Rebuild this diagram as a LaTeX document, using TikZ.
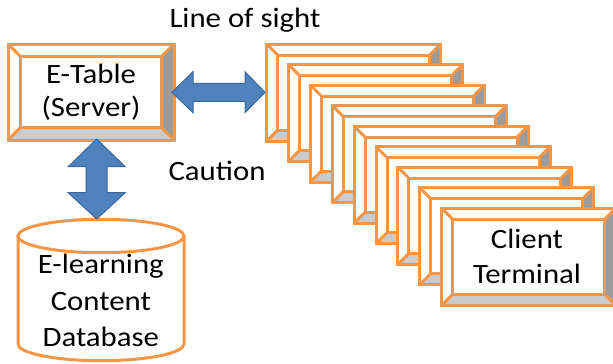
\documentclass[tikz,border=0pt]{standalone}
\usepackage{fontspec}
\setmainfont[FakeStretch=1.1]{Carlito}
\definecolor{boxorange}{HTML}{F79646}
\definecolor{arrowblue}{HTML}{4F81BD}
\definecolor{arrowedge}{HTML}{3A679C}
\definecolor{bevelside}{HTML}{9B9B9B}
\definecolor{bevelbase}{HTML}{CBCBCB}

\tikzset{
  frame/.style={draw=boxorange, line width=3pt, line join=miter},
  blockarrow/.style={fill=arrowblue, draw=arrowedge, line width=1pt, line join=miter},
  label/.style={font=\fontsize{28}{35}\selectfont, align=center, inner sep=0pt, text=black},
}

% bevelled frame: name, left, top, width, height, bevel size
\newcommand\bevelbox[6]{%
  \coordinate (#1-nw) at (#2,#3);
  \coordinate (#1-se) at (#2+#4,#3+#5);
  \coordinate (#1-c) at (#2+#4/2,#3+#5/2);
  \fill[white] (#1-nw) rectangle (#1-se);
  \fill[bevelside] (#2+#4,#3) -- (#2+#4-#6,#3+#6) -- (#2+#4-#6,#3+#5-#6) -- (#2+#4,#3+#5) -- cycle;
  \fill[bevelbase] (#2,#3+#5) -- (#2+#6,#3+#5-#6) -- (#2+#4-#6,#3+#5-#6) -- (#2+#4,#3+#5) -- cycle;
  \draw[frame] (#1-nw) rectangle (#1-se);
  \draw[frame] (#2+#6,#3+#6) rectangle (#2+#4-#6,#3+#5-#6);
  \draw[frame] (#2,#3) -- ++(#6,#6) (#2+#4,#3) -- ++(-#6,#6)
               (#2,#3+#5) -- ++(#6,-#6) (#2+#4,#3+#5) -- ++(-#6,-#6);
}

\begin{document}
\begin{tikzpicture}[x=1pt, y=-1pt]
  \useasboundingbox (0,0) rectangle (613,364);
  \clip (0,0) rectangle (613,364);

  % database cylinder
  \draw[frame, fill=white] (18,236) -- (18,344)
      arc[start angle=180, end angle=0, x radius=83, y radius=16.7] -- (184,236);
  \draw[frame, fill=white] (101,236) ellipse[x radius=83, y radius=16.7];
  \node[label, font=\fontsize{28}{36.7}\selectfont, anchor=base] (db) at (100.8,346.7)
      {E-learning\\Content\\Database};

  % server
  \bevelbox{srv}{8}{44}{166}{96}{12.5}
  \node[label, font=\fontsize{28}{33}\selectfont, anchor=base] (server) at (91,116)
      {E-Table\\(Server)};

  % stack of client terminals
  \foreach \i in {0,...,8} {
    \pgfmathsetmacro\bx{266.7+21.875*\i}
    \pgfmathsetmacro\by{44+20.54*\i}
    \bevelbox{cl\i}{\bx}{\by}{174}{97}{11}
  }
  \node[label, anchor=base] (client) at (527,283.3) {Client\\Terminal};

  % block arrows
  \coordinate (hl) at (172,92.3);
  \coordinate (hr) at (265,92.3);
  \draw[blockarrow] (hl) -- ++(21,-20.6) -- ++(0,11.6) -- ++(52,0) -- ++(0,-11.6)
      -- (hr) -- ++(-20,20.4) -- ++(0,-11.4) -- ++(-52,0) -- ++(0,11.4) -- cycle;

  \coordinate (vt) at (96.7,139);
  \coordinate (vb) at (96.7,219);
  \draw[blockarrow] (vt) -- ++(28.5,27.7) -- ++(-18,0) -- ++(0,26) -- ++(18,0)
      -- (vb) -- ++(-28.5,-26.3) -- ++(18,0) -- ++(0,-26) -- ++(-18,0) -- cycle;

  % captions
  \node[label, anchor=base] (los) at (245,27.3) {Line of sight};
  \node[label, anchor=base] (caution) at (217,180.7) {Caution};
\end{tikzpicture}
\end{document}
